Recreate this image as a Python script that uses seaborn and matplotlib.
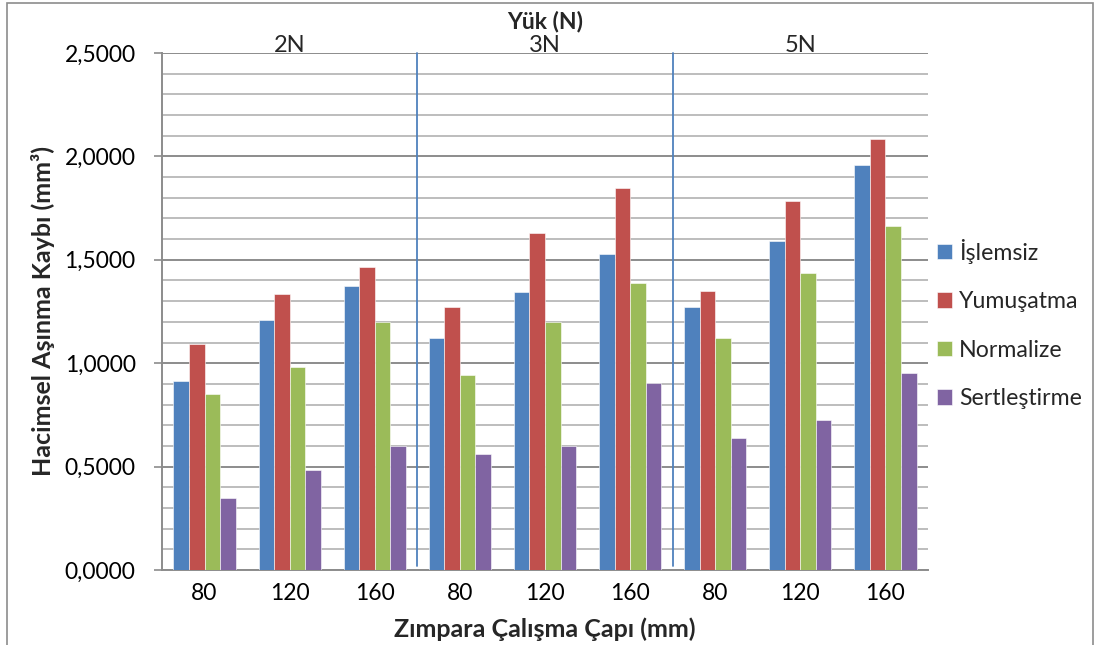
import matplotlib
matplotlib.use("Agg")
import matplotlib.pyplot as plt
from matplotlib.ticker import MultipleLocator, FuncFormatter
from matplotlib.patches import Rectangle
import numpy as np
import pandas as pd
import seaborn as sns

# Loads and sandpaper grit sizes
loads = ["2N", "3N", "5N"]
grits = ["80", "120", "160"]
series = ["İşlemsiz", "Yumuşatma", "Normalize", "Sertleştirme"]

# Volumetric wear loss (mm³), ordered 2N-80, 2N-120, 2N-160, 3N-80, ... 5N-160
islemsiz = [0.914, 1.209, 1.374, 1.120, 1.346, 1.526, 1.270, 1.589, 1.958]
yumusatma = [1.092, 1.337, 1.463, 1.270, 1.630, 1.845, 1.348, 1.782, 2.086]
normalize = [0.853, 0.981, 1.198, 0.942, 1.198, 1.387, 1.120, 1.437, 1.665]
sertlestirme = [0.346, 0.485, 0.599, 0.562, 0.599, 0.905, 0.637, 0.727, 0.955]

colors = ["#4F81BD", "#C0504D", "#9BBB59", "#8064A2"]

categories = [f"{l}-{g}" for l in loads for g in grits]
tick_labels = [g for l in loads for g in grits]

values = [islemsiz, yumusatma, normalize, sertlestirme]
df = pd.DataFrame({
    "kategori": categories * len(series),
    "seri": np.repeat(series, len(categories)),
    "deger": np.concatenate(values),
})

sns.set_theme(style="white")
plt.rcParams["font.family"] = ["Lato", "DejaVu Sans"]

fig = plt.figure(figsize=(11.03, 6.45), dpi=100)
ax = fig.add_axes([162 / 1103, 75 / 645, 766 / 1103, 517 / 645])

sns.barplot(data=df, x="kategori", y="deger", hue="seri", order=categories,
            hue_order=series, palette=colors, saturation=1, width=0.73, gap=0,
            edgecolor="white", linewidth=0.4, ax=ax, zorder=3)

ax.set_ylim(0, 2.5)
ax.set_xlim(-0.5, len(categories) - 0.5)
ax.yaxis.set_major_locator(MultipleLocator(0.5))
ax.yaxis.set_minor_locator(MultipleLocator(0.1))
ax.yaxis.set_major_formatter(FuncFormatter(lambda v, p: f"{v:.4f}".replace(".", ",")))
ax.grid(which="major", axis="y", color="#8C8C8C", linewidth=1.4, zorder=0)
ax.grid(which="minor", axis="y", color="#BDBDBD", linewidth=1.4, zorder=0)
ax.grid(axis="x", visible=False)
ax.set_axisbelow(True)

for s in ["top", "right"]:
    ax.spines[s].set_visible(False)
ax.spines["left"].set_color("#8C8C8C")
ax.spines["left"].set_linewidth(1.4)
ax.spines["bottom"].set_color("#8C8C8C")
ax.spines["bottom"].set_linewidth(1.4)

ax.tick_params(axis="y", which="major", direction="out", length=6, width=1.2,
               color="#8C8C8C", left=True, labelsize=16.5, pad=13, labelcolor="black")
ax.tick_params(axis="y", which="minor", left=False)
ax.tick_params(axis="x", bottom=False, labelsize=16.5, pad=3, labelcolor="black")
ax.set_xticks(range(len(categories)))
ax.set_xticklabels(tick_labels)

ax.set_xlabel("Zımpara Çalışma Çapı (mm)", fontsize=18, fontweight="bold", labelpad=10)
ax.set_ylabel("Hacimsel Aşınma Kaybı (mm³)", fontsize=18, fontweight="bold", labelpad=7)

# Load group separators and headers
for pos in [2.5, 5.5]:
    ax.plot([pos, pos], [0.02, 2.5], color="#4F81BD", linewidth=1.3, zorder=4,
            clip_on=False)
for i, l in enumerate(loads):
    ax.text(3 * i + 1, 2.503, l, ha="center", va="baseline", fontsize=17)
ax.text(4, 2.621, "Yük (N)", ha="center", va="baseline", fontsize=16.5, fontweight="bold")

leg = ax.legend(loc="center left", bbox_to_anchor=(1.0117, 0.476), frameon=False,
                fontsize=16.7, handlelength=0.65, handleheight=0.65, labelspacing=1.18,
                handletextpad=0.3, borderaxespad=0, borderpad=0)

# Chart area frame
fig.patches.append(Rectangle((7 / 1103, -0.02), 1086 / 1103, 1 - 3 / 645 + 0.02,
                             transform=fig.transFigure, fill=False,
                             edgecolor="#8C8C8C", linewidth=1.2))

fig.savefig("out.png", dpi=100)
